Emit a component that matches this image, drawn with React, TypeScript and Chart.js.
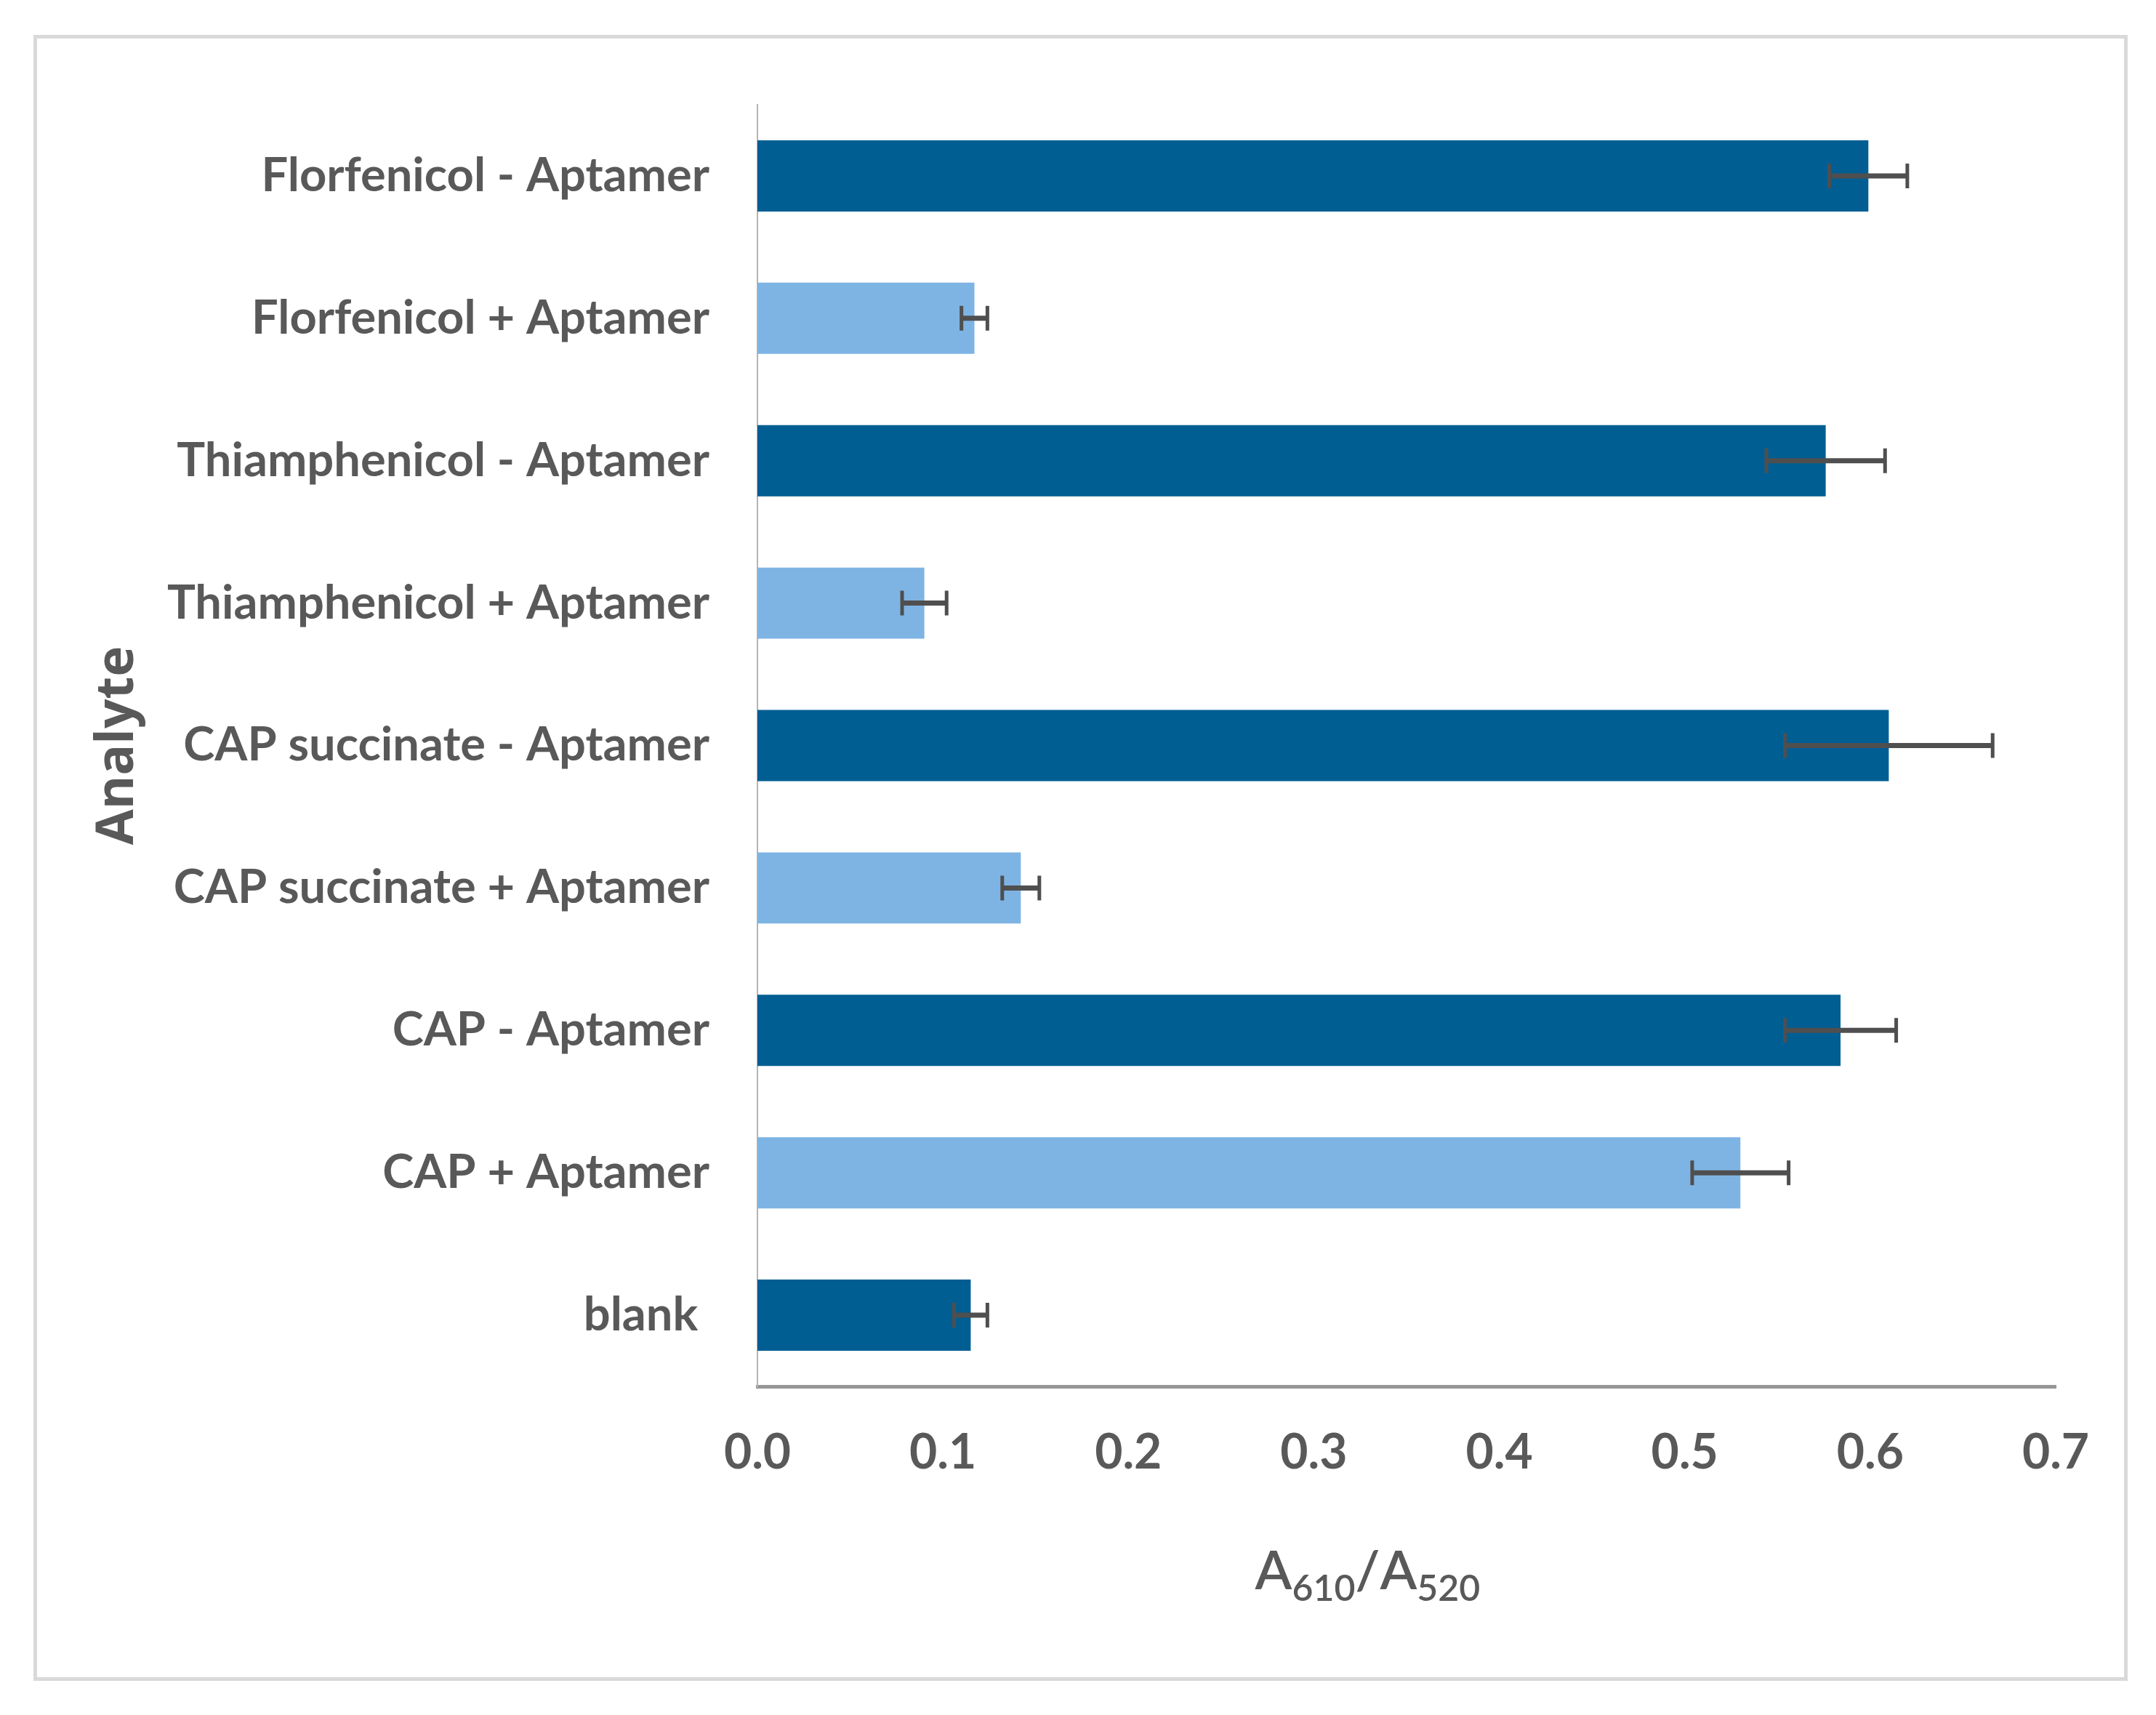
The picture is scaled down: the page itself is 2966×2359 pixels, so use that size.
import { useEffect, useRef } from 'react';
import { Chart, registerables } from 'chart.js';

Chart.register(...registerables);

const categories = [
  'Florfenicol - Aptamer',
  'Florfenicol + Aptamer',
  'Thiamphenicol - Aptamer',
  'Thiamphenicol + Aptamer',
  'CAP succinate - Aptamer',
  'CAP succinate + Aptamer',
  'CAP - Aptamer',
  'CAP + Aptamer',
  'blank ',
];
const values = [0.599, 0.117, 0.576, 0.09, 0.61, 0.142, 0.584, 0.53, 0.115];
const errors = [0.021, 0.007, 0.032, 0.012, 0.056, 0.01, 0.03, 0.026, 0.009];
const DARK = '#015E93';
const LIGHT = '#7EB4E4';
const barColors = [DARK, LIGHT, DARK, LIGHT, DARK, LIGHT, DARK, LIGHT, DARK];
const xMin = 0;
const xMax = 0.7;
const xStep = 0.1;
const yTitle = 'Analyte';
const xTitleParts = [
  { text: 'A', sub: false },
  { text: '610', sub: true },
  { text: '/', sub: false },
  { text: 'A', sub: false },
  { text: '520', sub: true },
];

const TEXT = '#595959';
const W = 2966;
const H = 2359;

const errorBarPlugin = {
  id: 'errorBars',
  afterDatasetsDraw(chart: any) {
    const ctx = chart.ctx;
    const meta = chart.getDatasetMeta(0);
    const xs = chart.scales.x;
    ctx.save();
    ctx.strokeStyle = '#4f4f4f';
    meta.data.forEach((bar: any, i: number) => {
      const lo = xs.getPixelForValue(values[i] - errors[i]);
      const hi = xs.getPixelForValue(values[i] + errors[i]);
      const y = bar.y;
      ctx.lineWidth = 7;
      ctx.beginPath();
      ctx.moveTo(lo, y);
      ctx.lineTo(hi, y);
      ctx.stroke();
      ctx.lineWidth = 5;
      ctx.beginPath();
      ctx.moveTo(lo, y - 17);
      ctx.lineTo(lo, y + 17);
      ctx.moveTo(hi, y - 17);
      ctx.lineTo(hi, y + 17);
      ctx.stroke();
    });
    ctx.restore();
  },
};

const xTitlePlugin = {
  id: 'xTitleSub',
  afterDraw(chart: any) {
    const ctx = chart.ctx;
    const area = chart.chartArea;
    const bigFont = '600 74px Lato';
    const smallFont = '600 50px Lato';
    ctx.save();
    ctx.fillStyle = TEXT;
    ctx.textBaseline = 'alphabetic';
    ctx.textAlign = 'left';
    let total = 0;
    const widths = xTitleParts.map((p) => {
      ctx.font = p.sub ? smallFont : bigFont;
      const w = ctx.measureText(p.text).width;
      total += w;
      return w;
    });
    const cx = area.left + (area.right - area.left) * 0.47;
    const baseY = area.bottom + 279;
    let x = cx - total / 2;
    xTitleParts.forEach((p, i) => {
      ctx.font = p.sub ? smallFont : bigFont;
      ctx.fillText(p.text, x, p.sub ? baseY + 16 : baseY);
      x += widths[i];
    });
    ctx.restore();
  },
};

export default function App() {
  const ref = useRef<HTMLCanvasElement | null>(null);

  useEffect(() => {
    if (!ref.current) return;
    const chart = new Chart(ref.current, {
      type: 'bar',
      data: {
        labels: categories,
        datasets: [
          {
            data: values,
            backgroundColor: barColors,
            borderWidth: 0,
            barPercentage: 0.5,
            categoryPercentage: 1.0,
          },
        ],
      },
      options: {
        indexAxis: 'y',
        responsive: false,
        animation: false,
        devicePixelRatio: 1,
        layout: { padding: { top: 144, right: 138, left: 0, bottom: 0 } },
        plugins: {
          legend: { display: false },
          tooltip: { enabled: false },
        },
        scales: {
          x: {
            type: 'linear',
            min: xMin,
            max: xMax,
            afterFit: (s: any) => {
              s.height = 452;
            },
            ticks: {
              stepSize: xStep,
              padding: 52,
              color: TEXT,
              font: { family: 'Lato', weight: 'bold', size: 66 },
              callback: (v: any) => Number(v).toFixed(1),
            },
            grid: { display: false, drawTicks: false },
            border: { display: true, color: '#969696', width: 5 },
          },
          y: {
            type: 'category',
            afterFit: (s: any) => {
              s.width = 1042;
            },
            ticks: {
              padding: 66,
              color: TEXT,
              font: { family: 'Lato', weight: 'bold', size: 65 },
            },
            grid: { display: false, drawTicks: false },
            border: { display: true, color: '#b4b4b4', width: 2 },
            title: {
              display: true,
              text: yTitle,
              color: TEXT,
              font: { family: 'Open Sans', weight: 'bold', size: 71 },
              padding: { top: 120, bottom: 0 },
            },
          },
        },
      },
      plugins: [errorBarPlugin, xTitlePlugin],
    });
    return () => chart.destroy();
  }, []);

  return (
    <div style={{ position: 'absolute', left: 0, top: 0, width: W, height: H, background: '#ffffff' }}>
      <canvas ref={ref} width={W} height={H} style={{ display: 'block', width: W, height: H }} />
      <div
        style={{
          position: 'absolute',
          left: 46,
          top: 48,
          width: 2881,
          height: 2264,
          border: '5px solid #d9d9d9',
          boxSizing: 'border-box',
          pointerEvents: 'none',
        }}
      />
    </div>
  );
}
